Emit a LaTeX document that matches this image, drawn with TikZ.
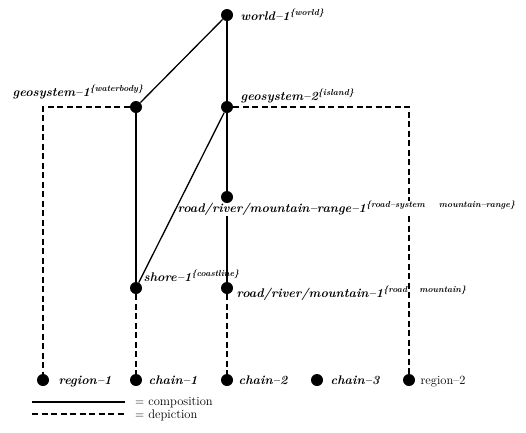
\documentclass[tikz,border=0pt]{standalone}
\usetikzlibrary{backgrounds}
\newcommand\gname[3]{#1--#2\textsuperscript{\{#3\}}}
\begin{document}
\begin{tikzpicture}[x=1pt,y=-1pt,
  dot/.style={circle,fill=black,inner sep=0pt,minimum size=12pt},
  comp/.style={line width=1.3pt},
  dep/.style={line width=1.3pt,dash pattern=on 6pt off 3.5pt},
  lbl/.style={anchor=base west,inner sep=0.5pt,font=\fontsize{12.5}{14}\selectfont\bfseries\itshape},
  plain/.style={anchor=base west,inner sep=0.5pt,font=\fontsize{12.5}{14}\selectfont},
  leg/.style={anchor=base west,inner sep=0pt,font=\fontsize{12.5}{14}\selectfont}]
\useasboundingbox (0,0) rectangle (526,432);

% labels (the range label masks the lines behind it)
\node[lbl] (lw)  at (240,20)  {\gname{world}{1}{world}};
\node[lbl] (lg1) at (12,96)   {\gname{geosystem}{1}{waterbody}};
\node[lbl] (lg2) at (240,100) {\gname{geosystem}{2}{island}};
\node[lbl,fill=white] (lrr) at (177,212)
  {road/river/mountain--range--1\textsuperscript{\{road--system\hspace{14pt}mountain--range\}}};
\node[lbl] (lsh) at (143,281) {\gname{shore}{1}{coastline}};
\node[lbl] (lrm) at (236,297)
  {road/river/mountain--1\textsuperscript{\{road\hspace{12pt}mountain\}}};
\node[lbl] (lr1) at (58,384)  {region--1};
\node[lbl] (lc1) at (148,384) {chain--1};
\node[lbl] (lc2) at (238,384) {chain--2};
\node[lbl] (lc3) at (330,384) {chain--3};
\node[plain] (lr2) at (420,384) {region--2};

% objects
\node[dot] (w)  at (227,15)  {};
\node[dot] (g1) at (136,107) {};
\node[dot] (g2) at (227,107) {};
\node[dot] (rr) at (227,197) {};
\node[dot] (sh) at (136,288) {};
\node[dot] (rm) at (227,288) {};
% depicting regions and chains
\node[dot] (r1) at (43,380)  {};
\node[dot] (c1) at (136,380) {};
\node[dot] (c2) at (227,380) {};
\node[dot] (c3) at (317,380) {};
\node[dot] (r2) at (409,380) {};

\coordinate (k1) at (43,107);
\coordinate (k2) at (409,107);

\begin{scope}[on background layer]
% composition
\draw[comp] (w) -- (g1);
\draw[comp] (w) -- (g2);
\draw[comp] (g1) -- (sh);
\draw[comp] (g2) -- (rr);
\draw[comp] (rr) -- (rm);
% depiction
\draw[dep] (g1) -- (k1) -- (r1);
\draw[dep] (g2) -- (k2) -- (r2);
\draw[dep] (sh) -- (c1);
\draw[dep] (rm) -- (c2);
\end{scope}
\draw[comp] (g2) -- (sh);

% legend
\coordinate (a1) at (32,402);
\coordinate (a2) at (125,402);
\coordinate (b1) at (32,414);
\coordinate (b2) at (125,414);
\draw[comp] (a1) -- (a2);
\draw[dep] (b1) -- (b2);
\node[leg] (lcomp) at (135,405) {$=$ composition};
\node[leg] (ldep)  at (135,418) {$=$ depiction};
\end{tikzpicture}
\end{document}
